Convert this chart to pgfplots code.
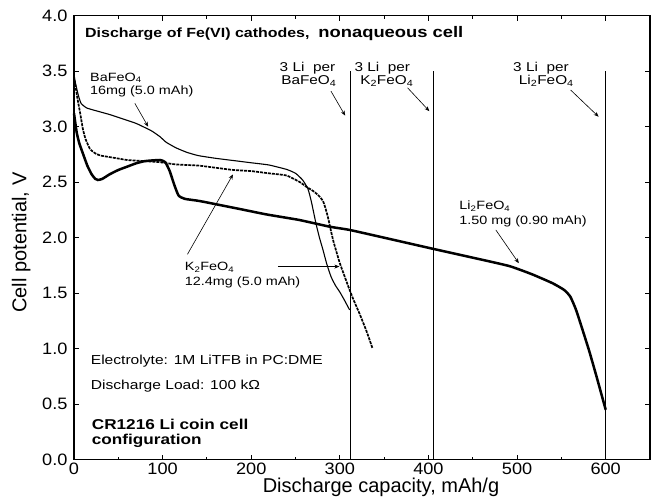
\documentclass[border=0pt]{standalone}
\usepackage{fontspec}
\setmainfont{Liberation Sans}
\newfontfamily\wsf[FakeStretch=1.2]{Liberation Sans}
\newfontfamily\tsf[FakeStretch=1.1]{Liberation Sans}
\usepackage{pgfplots}
\pgfplotsset{compat=1.18}
\usetikzlibrary{arrows.meta}
\begin{document}
\begin{tikzpicture}
\useasboundingbox (-74pt,-43pt) rectangle (577pt,459.7pt);
\begin{axis}[
  at={(0,0)}, anchor=south west,
  width=576pt, height=444pt, scale only axis,
  xmin=0, xmax=650, ymin=0, ymax=4,
  xtick={0,100,...,600}, ytick={0,0.5,...,4},
  minor xtick={50,150,...,650},
  tick pos=both, tick align=inside,
  major tick length=5pt, minor tick length=3pt,
  axis line style={line width=1.2pt},
  every tick/.style={line width=0.9pt, black},
  /pgf/number format/assume math mode=true,
  ticklabel style={font=\tsf\fontsize{16.5}{18}\selectfont},
  yticklabel style={/pgf/number format/fixed, /pgf/number format/fixed zerofill, /pgf/number format/precision=1, xshift=-3pt},
  xticklabel style={/pgf/number format/fixed},
  xlabel={Discharge capacity, mAh/g},
  ylabel={Cell potential, V},
  label style={font=\fontsize{20}{22}\selectfont},
  xlabel style={at={(axis description cs:0.533,-0.0736)}, anchor=base},
  ylabel style={at={(axis description cs:-0.0828,0.489)}, anchor=base},
  clip=false,
]
% vertical reference lines
\addplot[black, line width=1pt] coordinates {(312,0) (312,3.5)};
\addplot[black, line width=1pt] coordinates {(406,0) (406,3.5)};
\addplot[black, line width=1pt] coordinates {(600,0) (600,3.5)};
% BaFeO4 (thin)
\addplot[black, line width=1.1pt, smooth, tension=0.3] coordinates {
(0,3.47) (2,3.38) (5,3.28) (8,3.21) (14,3.17) (22,3.15) (40,3.11) (59,3.06) (70,3.03) (78,3.00) (88,2.96) (97,2.91) (104,2.86) (115,2.81) (127,2.77) (140,2.74) (160,2.715) (180,2.695) (200,2.675) (220,2.655) (240,2.615) (250,2.58) (258,2.52) (264,2.44) (268,2.32) (273,2.13) (277,2.00) (281,1.89) (285,1.77) (290,1.65) (295,1.57) (300,1.51) (305,1.44) (311,1.35)};
% K2FeO4 (dashed)
\addplot[black, line width=1.7pt, dash pattern=on 3pt off 1pt, smooth, tension=0.3] coordinates {
(0,3.42) (1,3.40) (4,3.25) (7,3.12) (10,2.98) (13,2.89) (18,2.80) (24,2.76) (30,2.74) (45,2.72) (60,2.70) (80,2.69) (97,2.68) (115,2.66) (140,2.65) (160,2.63) (180,2.61) (200,2.60) (220,2.58) (240,2.56) (255,2.50) (262,2.46) (270,2.42) (276,2.38) (281,2.33) (284,2.26) (287,2.17) (290,2.06) (293,1.96) (297,1.85) (300,1.77) (305,1.66) (311,1.53) (316,1.43) (322,1.32) (330,1.16) (337,1.00)};
% Li2FeO4 (thick)
\addplot[black, line width=2.5pt, smooth, tension=0.3] coordinates {
(0,3.12) (3,2.95) (6,2.85) (10,2.76) (15,2.65) (20,2.57) (24,2.53) (27,2.52) (32,2.53) (40,2.57) (50,2.61) (60,2.64) (70,2.67) (80,2.69) (97,2.70) (103,2.68) (108,2.60) (113,2.48) (118,2.38) (125,2.35) (142,2.33) (180,2.27) (217,2.21) (254,2.16) (288,2.10) (311,2.07) (350,2.00) (405,1.90) (450,1.82) (491,1.745) (517,1.67) (540,1.59) (553,1.53) (560,1.47) (567,1.34) (581,0.99) (590,0.74) (600,0.45)};
% texts
\node[anchor=base west, inner sep=0, font=\wsf\bfseries\fontsize{13.3}{15}\selectfont] at (axis cs:12.4,3.80) {Discharge of Fe(VI) cathodes,\ \ {\fontsize{15.3}{15}\selectfont nonaqueous cell}};
\begin{scope}[every node/.style={inner sep=0, font=\wsf\fontsize{12}{14}\selectfont}]
\node[anchor=base west] at (axis cs:18,3.41) {BaFeO\textsubscript{4}};
\node[anchor=base west] at (axis cs:18,3.29) {16mg (5.0 mAh)};
\node[anchor=base west] at (axis cs:125,1.70) {K\textsubscript{2}FeO\textsubscript{4}};
\node[anchor=base west] at (axis cs:125,1.565) {12.4mg (5.0 mAh)};
\node[anchor=base west] at (axis cs:434.7,2.25) {Li\textsubscript{2}FeO\textsubscript{4}};
\node[anchor=base west] at (axis cs:434.7,2.115) {1.50 mg (0.90 mAh)};
\begin{scope}[every node/.append style={font=\wsf\fontsize{12.8}{14}\selectfont}]
\node[anchor=base] at (axis cs:263.5,3.50) {3 Li\ \ per};
\node[anchor=base] at (axis cs:265,3.38) {BaFeO\textsubscript{4}};
\node[anchor=base] at (axis cs:348,3.50) {3 Li\ \ per};
\node[anchor=base] at (axis cs:353,3.38) {K\textsubscript{2}FeO\textsubscript{4}};
\node[anchor=base] at (axis cs:527,3.50) {3 Li\ \ per};
\node[anchor=base] at (axis cs:533,3.38) {Li\textsubscript{2}FeO\textsubscript{4}};
\end{scope}
\node[anchor=base west, font=\wsf\fontsize{13}{14}\selectfont] at (axis cs:18.8,0.860) {Electrolyte: 1M LiTFB in PC:DME};
\node[anchor=base west, font=\wsf\fontsize{13}{14}\selectfont] at (axis cs:18.8,0.63) {Discharge Load: 100 kΩ};
\node[anchor=base west, font=\wsf\bfseries\fontsize{14.3}{15}\selectfont] at (axis cs:20,0.27) {CR1216 Li coin cell};
\node[anchor=base west, font=\wsf\bfseries\fontsize{14.3}{15}\selectfont] at (axis cs:20,0.135) {configuration};
\end{scope}
% annotation arrows
\begin{scope}[line width=0.6pt, -{Stealth[length=5pt,width=4pt]}]
\draw (axis cs:68.7,3.21) -- (axis cs:83.7,3.00);
\draw (axis cs:128,1.85) -- (axis cs:179.4,2.57);
\draw (axis cs:230,1.74) -- (axis cs:299.5,1.74);
\draw (axis cs:476,2.07) -- (axis cs:502,1.77);
\draw (axis cs:290,3.32) -- (axis cs:306,3.10);
\draw (axis cs:376.5,3.35) -- (axis cs:401,3.14);
\draw (axis cs:560.5,3.33) -- (axis cs:592,3.09);
\end{scope}
\end{axis}
\end{tikzpicture}
\end{document}
